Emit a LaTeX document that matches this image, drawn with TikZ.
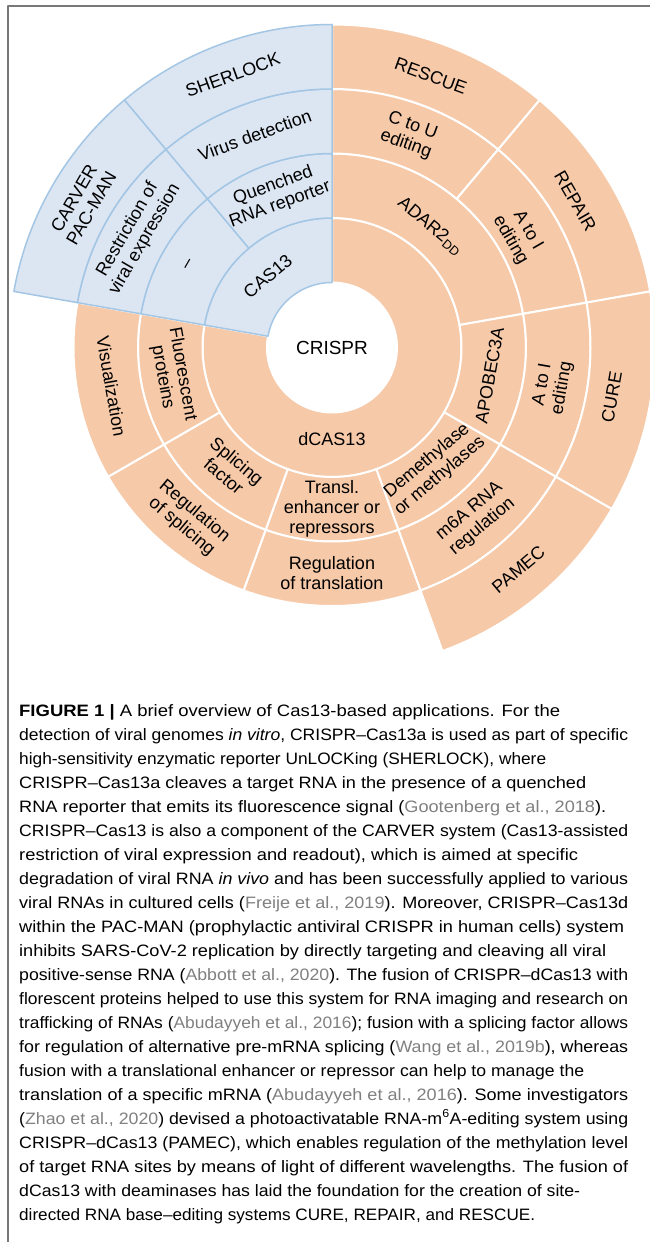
\documentclass[tikz,border=0pt]{standalone}
\usepackage{fontspec}
\setmainfont{Liberation Sans}
\usepackage{xcolor}
\usepackage{graphicx}
\usepackage{tikz}
\usetikzlibrary{calc}

\definecolor{peach}{RGB}{246,201,168}
\definecolor{paleblue}{RGB}{220,230,242}
\definecolor{edgeblue}{RGB}{164,198,229}
\definecolor{citegray}{RGB}{128,128,128}
\definecolor{framegray}{RGB}{120,120,120}

\tikzset{
    orangeseg/.style={fill=peach, draw=white, line width=2pt},
    blueseg/.style={fill=paleblue, draw=edgeblue, line width=1.5pt},
    lbl/.style={font=\fontsize{18}{20}\selectfont, align=center, inner sep=0pt},
    capline/.style={font=\fontsize{16.5}{24}\selectfont, anchor=base west, inner sep=0pt},
    frame/.style={draw=framegray, line width=1.5pt}
}

% annular sector: style, start angle, end angle, inner radius, outer radius
\newcommand{\ringseg}[5]{\filldraw[#1] (#2:#4) arc[start angle=#2, end angle=#3, radius=#4] -- (#3:#5) arc[start angle=#3, end angle=#2, radius=#5] -- cycle;}
% caption line squeezed to the printed width
\newsavebox{\capbox}
\newcommand{\fitline}[2]{\sbox{\capbox}{#2}\pgfmathsetmacro{\fitratio}{#1/\the\wd\capbox}\scalebox{\fitratio}[1]{\usebox{\capbox}}}
\newcommand{\citeg}[1]{\textcolor{citegray}{#1}}

\begin{document}
\begin{tikzpicture}[x=1pt, y=1pt, line join=round]
    \useasboundingbox (-332,-894.5) rectangle (318,347.5);
    \fill[white] (-332,-894.5) rectangle (318,347.5);
    % Frame
    \draw[frame] (-324,-894.5) -- (-324,341.5) -- (318,341.5);

    % dCAS13 branch (orange)
    \ringseg{orangeseg}{170}{450}{65}{129.5}
    \ringseg{orangeseg}{10}{90}{129.5}{194}
    \ringseg{orangeseg}{-30}{10}{129.5}{194}
    \ringseg{orangeseg}{-70}{-30}{129.5}{194}
    \ringseg{orangeseg}{-110}{-70}{129.5}{194}
    \ringseg{orangeseg}{-150}{-110}{129.5}{194}
    \ringseg{orangeseg}{-190}{-150}{129.5}{194}
    \ringseg{orangeseg}{50}{90}{194}{258.5}
    \ringseg{orangeseg}{10}{50}{194}{258.5}
    \ringseg{orangeseg}{-30}{10}{194}{258.5}
    \ringseg{orangeseg}{-70}{-30}{194}{258.5}
    \ringseg{orangeseg}{-110}{-70}{194}{258.5}
    \ringseg{orangeseg}{-150}{-110}{194}{258.5}
    \ringseg{orangeseg}{-190}{-150}{194}{258.5}
    \ringseg{orangeseg}{50}{90}{258.5}{323}
    \ringseg{orangeseg}{10}{50}{258.5}{323}
    \ringseg{orangeseg}{-30}{10}{258.5}{323}
    \ringseg{orangeseg}{-70}{-30}{258.5}{323}

    % CAS13 branch (blue)
    \ringseg{blueseg}{90}{170}{65}{129.5}
    \ringseg{blueseg}{90}{130}{129.5}{194}
    \ringseg{blueseg}{130}{170}{129.5}{194}
    \ringseg{blueseg}{90}{130}{194}{258.5}
    \ringseg{blueseg}{130}{170}{194}{258.5}
    \ringseg{blueseg}{90}{130}{258.5}{323}
    \ringseg{blueseg}{130}{170}{258.5}{323}

    % Centre
    \node[lbl, font=\fontsize{19}{21}\selectfont] (crispr) at (0,0) {CRISPR};

    % Blue labels
    \node[lbl, rotate=40] (cas) at (132:96) {CAS13};
    \node[lbl, rotate=20] (quenched) at (110:162) {Quenched\\RNA reporter};
    \node[lbl, rotate=60] (nodash) at (150:165) {–};
    \node[lbl, rotate=20] (virus) at (110:226) {Virus detection};
    \node[lbl, rotate=60] (restrict) at (150:226) {Restriction of\\viral expression};
    \node[lbl, rotate=20] (sherlock) at (110:290) {SHERLOCK};
    \node[lbl, rotate=60] (carver) at (150:288) {CARVER\\PAC-MAN};

    % Orange labels
    \node[lbl] (dcas) at (-90:92) {dCAS13};
    \node[lbl, rotate=-40] (adar) at (51:156) {ADAR2\textsubscript{DD}};
    \node[lbl, rotate=80] (apobec) at (-10:160) {APOBEC3A};
    \node[lbl, rotate=40] (demeth) at (-50:158) {Demethylase\\or methylases};
    \node[lbl] (transl) at (-90:161) {Transl.\\enhancer or\\repressors};
    \node[lbl, rotate=-40] (splfactor) at (-130:158) {Splicing\\factor};
    \node[lbl, rotate=-80] (fluor) at (190:162) {Fluorescent\\proteins};
    \node[lbl, rotate=-20] (ctou) at (70:226) {C to U\\editing};
    \node[lbl, rotate=-60] (atoiup) at (31:218) {A to I\\editing};
    \node[lbl, rotate=80] (atoidown) at (-10:224) {A to I\\editing};
    \node[lbl, rotate=40] (msixa) at (-50:224) {m6A RNA\\regulation};
    \node[lbl] (regtransl) at (-90:226) {Regulation\\of translation};
    \node[lbl, rotate=-40] (regsplice) at (-130:224) {Regulation\\of splicing};
    \node[lbl, rotate=-80] (visual) at (190:224) {Visualization};
    \node[lbl, rotate=-20] (rescue) at (70:289) {RESCUE};
    \node[lbl, rotate=-60] (repair) at (31:284) {REPAIR};
    \node[lbl, rotate=80] (cure) at (-10:284) {CURE};
    \node[lbl, rotate=40] (pamec) at (-50:290) {PAMEC};

    % Caption
    \node[capline] (cap1) at (-313,-368.5) {\fitline{541}{\textbf{FIGURE 1 |} A brief overview of Cas13-based applications. For the}};
    \node[capline] (cap2) at (-313,-392.5) {\fitline{609}{detection of viral genomes \textit{in vitro}, CRISPR–Cas13a is used as part of specific}};
    \node[capline] (cap3) at (-313,-416.5) {\fitline{527}{high-sensitivity enzymatic reporter UnLOCKing (SHERLOCK), where}};
    \node[capline] (cap4) at (-313,-440.5) {\fitline{567}{CRISPR–Cas13a cleaves a target RNA in the presence of a quenched}};
    \node[capline] (cap5) at (-313,-464.5) {\fitline{587}{RNA reporter that emits its fluorescence signal (\citeg{Gootenberg et al., 2018}).}};
    \node[capline] (cap6) at (-313,-488.5) {\fitline{609}{CRISPR–Cas13 is also a component of the CARVER system (Cas13-assisted}};
    \node[capline] (cap7) at (-313,-512.5) {\fitline{559}{restriction of viral expression and readout), which is aimed at specific}};
    \node[capline] (cap8) at (-313,-536.5) {\fitline{609}{degradation of viral RNA \textit{in vivo} and has been successfully applied to various}};
    \node[capline] (cap9) at (-313,-560.5) {\fitline{609}{viral RNAs in cultured cells (\citeg{Freije et al., 2019}). Moreover, CRISPR–Cas13d}};
    \node[capline] (cap10) at (-313,-584.5) {\fitline{605}{within the PAC-MAN (prophylactic antiviral CRISPR in human cells) system}};
    \node[capline] (cap11) at (-313,-608.5) {\fitline{587}{inhibits SARS-CoV-2 replication by directly targeting and cleaving all viral}};
    \node[capline] (cap12) at (-313,-632.5) {\fitline{609}{positive-sense RNA (\citeg{Abbott et al., 2020}). The fusion of CRISPR–dCas13 with}};
    \node[capline] (cap13) at (-313,-656.5) {\fitline{609}{florescent proteins helped to use this system for RNA imaging and research on}};
    \node[capline] (cap14) at (-313,-680.5) {\fitline{609}{trafficking of RNAs (\citeg{Abudayyeh et al., 2016}); fusion with a splicing factor allows}};
    \node[capline] (cap15) at (-313,-704.5) {\fitline{609}{for regulation of alternative pre-mRNA splicing (\citeg{Wang et al., 2019b}), whereas}};
    \node[capline] (cap16) at (-313,-728.5) {\fitline{565}{fusion with a translational enhancer or repressor can help to manage the}};
    \node[capline] (cap17) at (-313,-752.5) {\fitline{609}{translation of a specific mRNA (\citeg{Abudayyeh et al., 2016}). Some investigators}};
    \node[capline] (cap18) at (-313,-776.5) {\fitline{609}{(\citeg{Zhao et al., 2020}) devised a photoactivatable RNA-m\textsuperscript{6}A-editing system using}};
    \node[capline] (cap19) at (-313,-800.5) {\fitline{609}{CRISPR–dCas13 (PAMEC), which enables regulation of the methylation level}};
    \node[capline] (cap20) at (-313,-824.5) {\fitline{609}{of target RNA sites by means of light of different wavelengths. The fusion of}};
    \node[capline] (cap21) at (-313,-848.5) {\fitline{561}{dCas13 with deaminases has laid the foundation for the creation of site-}};
    \node[capline] (cap22) at (-313,-872.5) {\fitline{516}{directed RNA base–editing systems CURE, REPAIR, and RESCUE.}};
\end{tikzpicture}
\end{document}
